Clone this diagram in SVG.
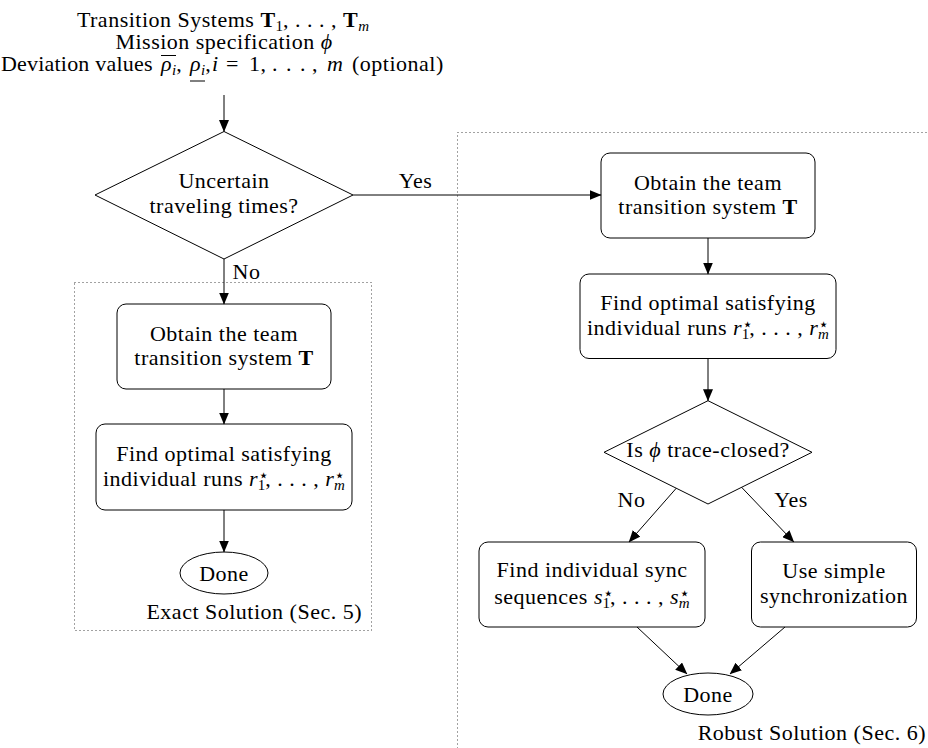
<svg xmlns="http://www.w3.org/2000/svg" width="928" height="748" viewBox="0 0 928 748">
<defs>
<style>
.t{font-family:"Liberation Serif","DejaVu Serif",serif;font-size:22px;letter-spacing:0.5px;fill:#000}
.c{text-anchor:middle}
.e{text-anchor:end}
.i{font-style:italic}
.b{font-weight:bold}
.sub{font-size:15px;letter-spacing:0}
.st{font-family:"DejaVu Sans",sans-serif;font-size:17px;letter-spacing:0}
.box{fill:#fff;stroke:#000;stroke-width:1}
.edge{stroke:#000;stroke-width:1;fill:none;marker-end:url(#arr)}
.frame{fill:none;stroke:#444;stroke-width:1;stroke-dasharray:1 3}
.deco{stroke:#000;stroke-width:1}
</style>
<marker id="arr" markerUnits="userSpaceOnUse" viewBox="0 0 12 10" markerWidth="12" markerHeight="10" refX="11.5" refY="5" orient="auto">
<path d="M0,0 L12,5 L0,10 Z" fill="#000"/>
</marker>
</defs>
<rect width="928" height="748" fill="#fff"/>

<g id="frames">
<rect class="frame" x="74.5" y="282.5" width="297" height="348"/>
<rect class="frame" x="457.5" y="132.5" width="600" height="700"/>
<text class="t e" x="362" y="619">Exact Solution (Sec. 5)</text>
<text class="t e" x="926" y="740">Robust Solution (Sec. 6)</text>
</g>

<g id="input">
<text class="t c" x="223" y="26.5">Transition Systems <tspan class="b">T</tspan><tspan class="sub" dy="4">1</tspan><tspan dy="-4">, . . . , </tspan><tspan class="b">T</tspan><tspan class="sub i" dy="4">m</tspan></text>
<text class="t c" x="224" y="49">Mission specification <tspan class="i">ϕ</tspan></text>
<text class="t" y="71"><tspan x="1" style="letter-spacing:0.2px">Deviation values</tspan><tspan x="161" class="i">ρ</tspan><tspan class="sub i" dy="4">i</tspan><tspan dy="-4">,</tspan><tspan x="190" class="i">ρ</tspan><tspan class="sub i" dy="4">i</tspan><tspan dy="-4">,</tspan><tspan x="212" class="i">i</tspan><tspan x="226">=</tspan><tspan x="249">1,</tspan><tspan x="272">.</tspan><tspan x="286">.</tspan><tspan x="300">.</tspan><tspan x="312">,</tspan><tspan x="327" class="i">m</tspan><tspan x="352">(optional)</tspan></text>
<line class="deco" x1="161" y1="55.5" x2="176" y2="55.5"/>
<line class="deco" x1="190" y1="81" x2="205" y2="81"/>
</g>

<g id="dec1">
<polygon class="box" points="224,131.5 353,195 224,259 95,195"/>
<text class="t c" x="224" y="188">Uncertain</text>
<text class="t c" x="224" y="213">traveling times?</text>
</g>

<g id="exact-team">
<rect class="box" x="117" y="304" width="214" height="85" rx="9"/>
<text class="t c" x="224" y="341">Obtain the team</text>
<text class="t c" x="224" y="365">transition system <tspan class="b">T</tspan></text>
</g>

<g id="exact-runs">
<rect class="box" x="96" y="424" width="256" height="86" rx="9"/>
<text class="t c" x="224" y="461">Find optimal satisfying</text>
<text class="t c" x="224" y="486">individual runs <tspan class="i">r</tspan><tspan class="st" dy="-5">⋆</tspan><tspan class="sub" dx="-11" dy="9">1</tspan><tspan dy="-4">, . . . , </tspan><tspan class="i">r</tspan><tspan class="st" dy="-5">⋆</tspan><tspan class="sub i" dx="-11" dy="9">m</tspan></text>
</g>

<g id="exact-done">
<ellipse class="box" cx="224" cy="573" rx="44" ry="21"/>
<text class="t c" x="224" y="580.5">Done</text>
</g>

<g id="robust-team">
<rect class="box" x="601" y="153" width="214" height="85" rx="9"/>
<text class="t c" x="708" y="190">Obtain the team</text>
<text class="t c" x="708" y="214">transition system <tspan class="b">T</tspan></text>
</g>

<g id="robust-runs">
<rect class="box" x="580" y="274" width="256" height="84.5" rx="9"/>
<text class="t c" x="708" y="310">Find optimal satisfying</text>
<text class="t c" x="708" y="335">individual runs <tspan class="i">r</tspan><tspan class="st" dy="-5">⋆</tspan><tspan class="sub" dx="-11" dy="9">1</tspan><tspan dy="-4">, . . . , </tspan><tspan class="i">r</tspan><tspan class="st" dy="-5">⋆</tspan><tspan class="sub i" dx="-11" dy="9">m</tspan></text>
</g>

<g id="dec2">
<polygon class="box" points="708,400.7 812,452.3 708,504 604,452.3"/>
<text class="t c" x="708" y="457">Is <tspan class="i">ϕ</tspan> trace-closed?</text>
</g>

<g id="sync-seq">
<rect class="box" x="479" y="542" width="226" height="85" rx="9"/>
<text class="t c" x="592" y="577">Find individual sync</text>
<text class="t c" x="592" y="604">sequences <tspan class="i">s</tspan><tspan class="st" dy="-5">⋆</tspan><tspan class="sub" dx="-11" dy="9">1</tspan><tspan dy="-4">, . . . , </tspan><tspan class="i">s</tspan><tspan class="st" dy="-5">⋆</tspan><tspan class="sub i" dx="-11" dy="9">m</tspan></text>
</g>

<g id="simple-sync">
<rect class="box" x="751.5" y="542" width="165" height="85" rx="9"/>
<text class="t c" x="834" y="578">Use simple</text>
<text class="t c" x="834" y="603">synchronization</text>
</g>

<g id="robust-done">
<ellipse class="box" cx="708" cy="694" rx="45" ry="21"/>
<text class="t c" x="708" y="701.5">Done</text>
</g>

<g id="connectors">
<line class="edge" x1="224" y1="95" x2="224" y2="131.5"/>
<line class="edge" x1="353" y1="195" x2="601" y2="195"/>
<line class="edge" x1="224" y1="259" x2="224" y2="304"/>
<line class="edge" x1="224" y1="389" x2="224" y2="424"/>
<line class="edge" x1="224" y1="510" x2="224" y2="552"/>
<line class="edge" x1="708" y1="238" x2="708" y2="274"/>
<line class="edge" x1="708" y1="358.5" x2="708" y2="400.7"/>
<line class="edge" x1="676.3" y1="488.2" x2="629" y2="542"/>
<line class="edge" x1="741.5" y1="487.2" x2="793.8" y2="542"/>
<line class="edge" x1="637" y1="627" x2="687" y2="674"/>
<line class="edge" x1="785" y1="627" x2="730" y2="674"/>
<text class="t c" x="415.5" y="188">Yes</text>
<text class="t" x="232.5" y="279">No</text>
<text class="t c" x="631.5" y="507">No</text>
<text class="t c" x="791" y="507">Yes</text>
</g>
</svg>
